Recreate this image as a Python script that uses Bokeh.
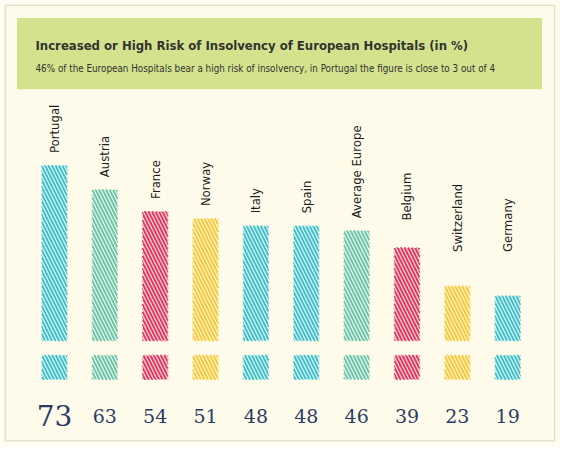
import numpy as np
from bokeh.plotting import figure
from bokeh.models import ColumnDataSource, Range1d, BoxAnnotation, Label
from bokeh.core.properties import value
from bokeh.embed import file_html
from bokeh.resources import INLINE

# ---- data ----
countries = ["Portugal", "Austria", "France", "Norway", "Italy", "Spain",
             "Average Europe", "Belgium", "Switzerland", "Germany"]
risk = [73, 63, 54, 51, 48, 48, 46, 39, 23, 19]
bar_colors = ["#3ebfca", "#6ec4a6", "#e8345a", "#fcc832", "#3ebfca", "#3ebfca",
              "#6ec4a6", "#e8345a", "#fcc832", "#3ebfca"]
title_text = "Increased or High Risk of Insolvency of European Hospitals (in %)"
subtitle_text = ("46% of the European Hospitals bear a high risk of insolvency, "
                 "in Portugal the figure is close to 3 out of 4")

FONT = "'DejaVu Sans Condensed', 'Roboto Condensed', 'Liberation Sans Narrow', Roboto, sans-serif"

W, H = 560, 446
SX, SY = W / 576, H / 462          # reference layout -> figure pixels
PX_X = 51.8 * SX                   # pixels per category step
PX_Y = 2.5 * SY                    # pixels per percentage point
BASE_Y = 353 * SY                  # baseline (figure pixels from top)
X0 = -55.5 * SX / PX_X             # data x at figure left edge

def dx(rx):
    return X0 + rx * SX / PX_X

def dy(ry):
    return (BASE_Y - ry * SY) / PX_Y

vals = np.array(risk, dtype=float)
xs = np.arange(len(countries))
label_y = np.maximum(vals + 5, np.where(vals >= 30, 50, 37))
num_sizes = ["28px" if v == max(risk) else "19px" for v in risk]

src = ColumnDataSource(dict(x=xs, top=vals, color=bar_colors, name=countries,
                            ly=label_y, num=[str(v) for v in risk],
                            nsize=num_sizes))

p = figure(width=W, height=H, output_backend="svg", toolbar_location=None,
           x_range=Range1d(dx(0), dx(576)), y_range=Range1d(dy(462), dy(0)),
           min_border=0, min_border_left=0, min_border_right=0,
           min_border_top=0, min_border_bottom=0)
p.axis.visible = False
p.grid.visible = False
p.background_fill_color = "#fffdf0"
p.border_fill_color = "#fffdf0"
p.outline_line_color = None

# framed panel
p.add_layout(BoxAnnotation(left=dx(5), right=dx(570), top=dy(5), bottom=dy(456),
                           fill_color="#fffbea", fill_alpha=1,
                           line_color="#aaa585", line_width=1.5,
                           level="underlay"))
# header band
p.add_layout(BoxAnnotation(left=dx(17), right=dx(557), top=dy(18), bottom=dy(92),
                           fill_color="#d4e28e", fill_alpha=1, line_alpha=0,
                           level="underlay"))
p.add_layout(Label(x=dx(36), y=dy(47), text=title_text,
                   text_font=FONT, text_font_style="bold",
                   text_font_size="13px", text_color="#33332f",
                   text_baseline="middle"))
p.add_layout(Label(x=dx(36), y=dy(70), text=subtitle_text,
                   text_font=FONT,
                   text_font_size="9.8px", text_color="#33332f",
                   text_baseline="middle"))

# country labels
p.text(x="x", y="ly", text="name", source=src, angle=np.pi / 2,
       text_align="left", text_baseline="middle",
       text_font=value(FONT), text_font_size="13px",
       text_color="#1e1e1e")

hatch = dict(hatch_pattern="left_diagonal_line", hatch_color="white",
             hatch_alpha=0.85, hatch_weight=1.2, hatch_scale=7)

# main bars
p.vbar(x="x", top="top", bottom=0, width=0.52, source=src,
       fill_color="color", line_color="#fffbea", line_width=1.5,
       line_dash="2 2", **hatch)

# small blocks under bars
p.vbar(x="x", top=dy(367), bottom=dy(393), width=0.52, source=src,
       fill_color="color", line_color="#fffbea", line_width=1.5,
       line_dash="2 2", **hatch)

# value numbers
p.text(x="x", y=dy(430), text="num", source=src,
       text_align="center", text_baseline="alphabetic",
       text_font=value("DejaVu Serif"), text_font_size="nsize",
       text_color="#2b3b66")

open("out.html", "w").write(file_html(p, INLINE))
